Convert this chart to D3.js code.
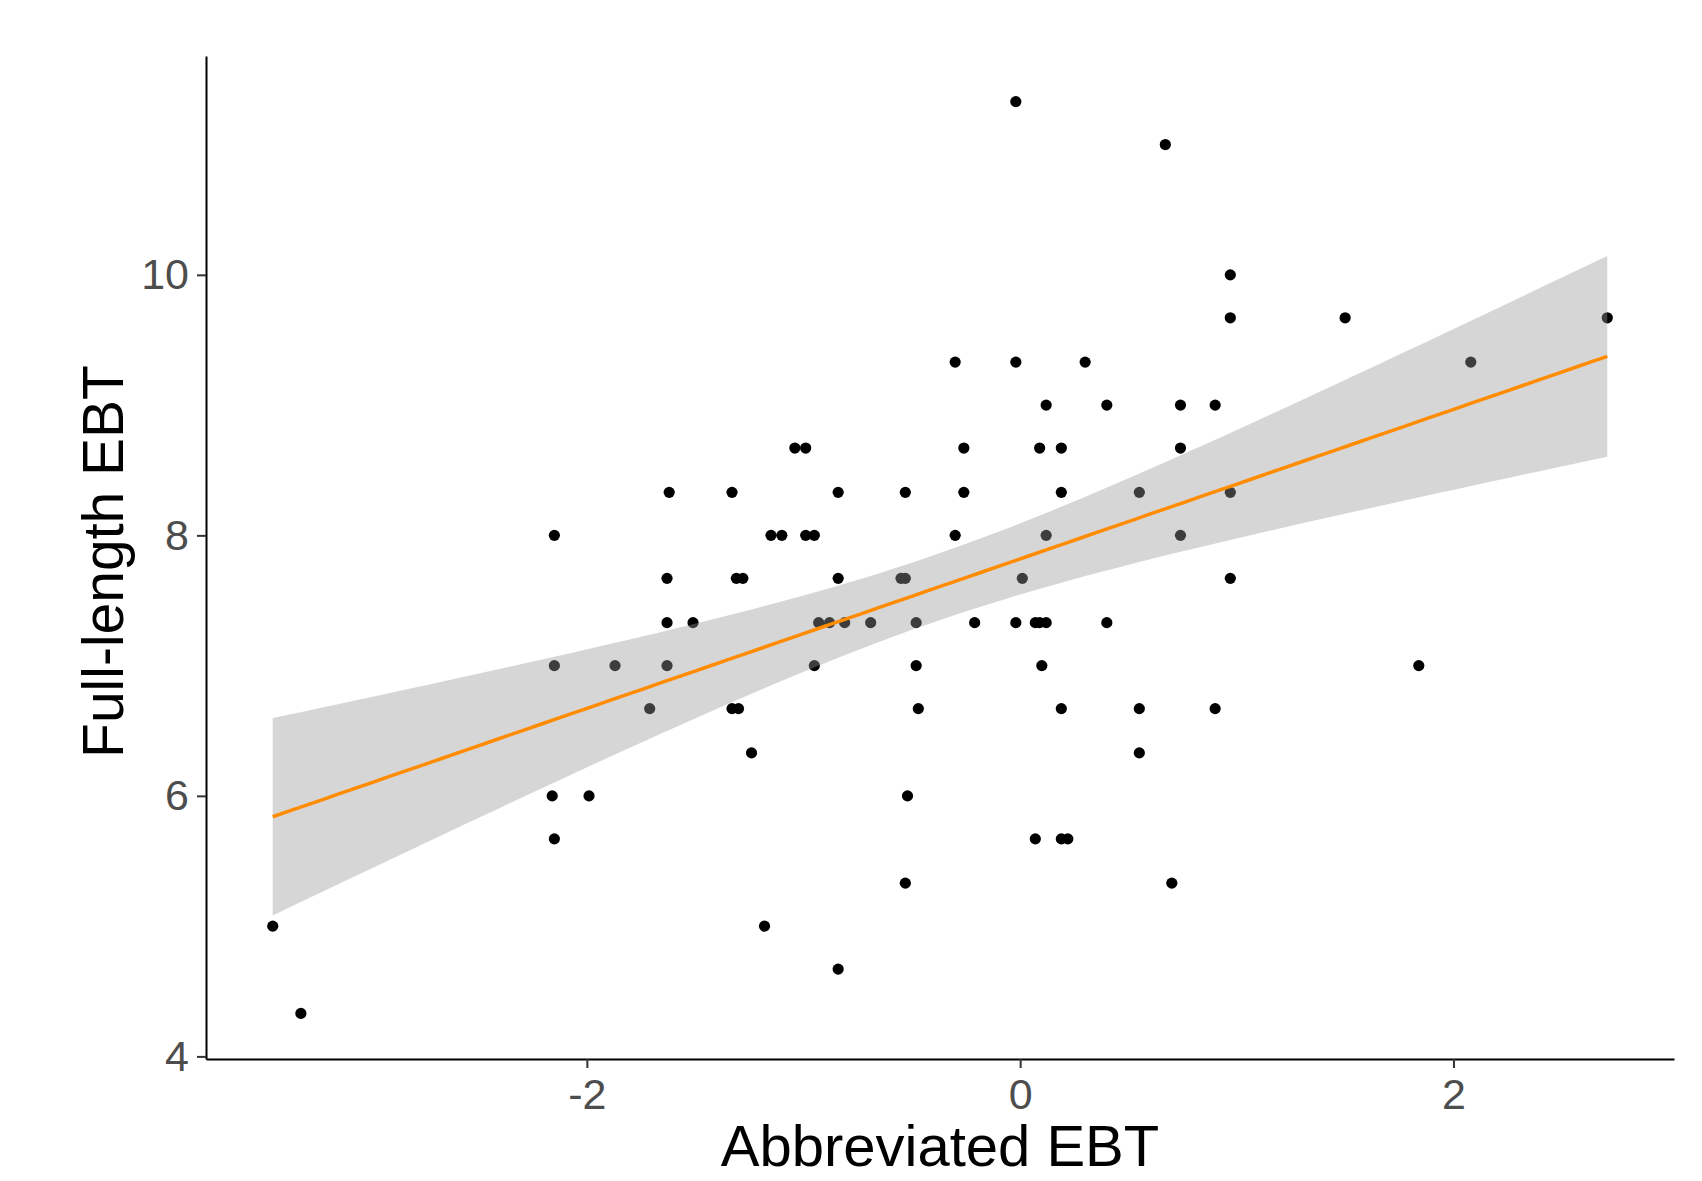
<!DOCTYPE html>
<html lang="en">
<head>
    <meta charset="UTF-8">
    <title>Abbreviated vs Full-length EBT</title>
    <script src="https://d3js.org/d3.v7.min.js"></script>
    <style>
        body { margin: 0; background: #fff; }
        text { font-family: "Liberation Sans", Arial, sans-serif; }
    </style>
</head>
<body>
    <div id="chart"></div>

    <script>
        // one row per level of the full-length score
        let abbreviated = [
            -0.02,
            0.67,
            0.97,
            0.97, 1.50, 2.71,
            -0.30, -0.02, 0.30, 2.08,
            0.12, 0.40, 0.74, 0.90,
            -1.04, -0.99, -0.26, 0.09, 0.19, 0.74,
            -1.62, -1.33, -0.84, -0.53, -0.26, 0.19, 0.55, 0.97,
            -2.15, -1.15, -1.10, -0.99, -0.95, -0.30, 0.12, 0.74,
            -1.63, -1.31, -1.28, -0.84, -0.55, -0.53, 0.01, 0.97,
            -1.63, -1.51, -0.93, -0.88, -0.81, -0.69, -0.48, -0.21, -0.02, 0.07, 0.09, 0.12, 0.40,
            -2.15, -1.87, -1.63, -0.95, -0.48, 0.10, 1.84,
            -1.71, -1.33, -1.30, -0.47, 0.19, 0.55, 0.90,
            -1.24, 0.55,
            -2.16, -1.99, -0.52,
            -2.15, 0.07, 0.19, 0.22,
            -0.53, 0.70,
            -3.45, -1.18,
            -0.84,
            -3.32
        ];

        let fullLength = [
            11.33,
            11.00,
            10.00,
            9.67, 9.67, 9.67,
            9.33, 9.33, 9.33, 9.33,
            9.00, 9.00, 9.00, 9.00,
            8.67, 8.67, 8.67, 8.67, 8.67, 8.67,
            8.33, 8.33, 8.33, 8.33, 8.33, 8.33, 8.33, 8.33,
            8.00, 8.00, 8.00, 8.00, 8.00, 8.00, 8.00, 8.00,
            7.67, 7.67, 7.67, 7.67, 7.67, 7.67, 7.67, 7.67,
            7.33, 7.33, 7.33, 7.33, 7.33, 7.33, 7.33, 7.33, 7.33, 7.33, 7.33, 7.33, 7.33,
            7.00, 7.00, 7.00, 7.00, 7.00, 7.00, 7.00,
            6.67, 6.67, 6.67, 6.67, 6.67, 6.67, 6.67,
            6.33, 6.33,
            6.00, 6.00, 6.00,
            5.67, 5.67, 5.67, 5.67,
            5.33, 5.33,
            5.00, 5.00,
            4.67,
            4.33
        ];

        let xTicks = [-2, 0, 2];
        let yTicks = [4, 6, 8, 10];
        let xLabel = "Abbreviated EBT";
        let yLabel = "Full-length EBT";

        let width = 1702, height = 1181;
        let margin = {top: 56, right: 28, bottom: 122, left: 206};

        let points = abbreviated.map((x, i) => ({x: x, y: fullLength[i]}));

        // ggplot style 5% padding
        function padded(ext) {
            let pad = (ext[1] - ext[0]) * 0.05;
            return [ext[0] - pad, ext[1] + pad];
        }

        let xExt = d3.extent(points, d => d.x);
        let yExt = d3.extent(points, d => d.y);

        let x = d3.scaleLinear()
            .domain(padded(xExt))
            .range([margin.left, width - margin.right]);

        let y = d3.scaleLinear()
            .domain(padded(yExt))
            .range([height - margin.bottom, margin.top]);

        // linear fit with 95% band
        let n = points.length;
        let xbar = d3.mean(points, d => d.x);
        let ybar = d3.mean(points, d => d.y);
        let sxx = d3.sum(points, d => (d.x - xbar) ** 2);
        let sxy = d3.sum(points, d => (d.x - xbar) * (d.y - ybar));
        let slope = sxy / sxx;
        let intercept = ybar - slope * xbar;
        let sse = d3.sum(points, d => (d.y - intercept - slope * d.x) ** 2);
        let s = Math.sqrt(sse / (n - 2));
        let tCrit = 1.989;

        let fit = d3.range(80).map(i => {
            let xv = xExt[0] + (xExt[1] - xExt[0]) * i / 79;
            let yv = intercept + slope * xv;
            let se = s * Math.sqrt(1 / n + (xv - xbar) ** 2 / sxx);
            return {x: xv, y: yv, lo: yv - tCrit * se, hi: yv + tCrit * se};
        });

        let svg = d3.select("#chart")
            .append("svg")
            .attr("width", width)
            .attr("height", height);

        svg.selectAll(".dot")
            .data(points)
            .enter()
            .append("circle")
            .attr("class", "dot")
            .attr("cx", d => x(d.x))
            .attr("cy", d => y(d.y))
            .attr("r", 5.6)
            .attr("fill", "#000");

        svg.append("path")
            .datum(fit)
            .attr("fill", "#999999")
            .attr("fill-opacity", 0.4)
            .attr("d", d3.area()
                .x(d => x(d.x))
                .y0(d => y(d.lo))
                .y1(d => y(d.hi)));

        svg.append("path")
            .datum(fit)
            .attr("fill", "none")
            .attr("stroke", "#FF8C00")
            .attr("stroke-width", 3.5)
            .attr("d", d3.line()
                .x(d => x(d.x))
                .y(d => y(d.y)));

        // axes
        let xAxis = svg.append("g")
            .attr("transform", `translate(0,${height - margin.bottom})`)
            .call(d3.axisBottom(x).tickValues(xTicks).tickSize(9).tickSizeOuter(0).tickPadding(10).tickFormat(d3.format("d")));

        let yAxis = svg.append("g")
            .attr("transform", `translate(${margin.left},0)`)
            .call(d3.axisLeft(y).tickValues(yTicks).tickSize(9).tickSizeOuter(0).tickPadding(8).tickFormat(d3.format("d")));

        [xAxis, yAxis].forEach(g => {
            g.select(".domain").attr("stroke", "#000").attr("stroke-width", 2);
            g.selectAll(".tick line").attr("stroke", "#333").attr("stroke-width", 2);
            g.selectAll(".tick text")
                .attr("fill", "#4D4D4D")
                .style("font-size", "43px")
                .style("font-family", "'Liberation Sans', Arial, sans-serif");
        });

        // R-style minus sign as hyphen
        xAxis.selectAll(".tick text").text(d => d < 0 ? "-" + Math.abs(d) : d);

        svg.append("text")
            .attr("x", (margin.left + width - margin.right) / 2)
            .attr("y", 1166)
            .attr("text-anchor", "middle")
            .attr("fill", "#000")
            .style("font-size", "58px")
            .text(xLabel);

        svg.append("text")
            .attr("transform", `translate(123,${(margin.top + height - margin.bottom) / 2 + 4}) rotate(-90)`)
            .attr("text-anchor", "middle")
            .attr("fill", "#000")
            .style("font-size", "57px")
            .text(yLabel);
    </script>
</body>
</html>
